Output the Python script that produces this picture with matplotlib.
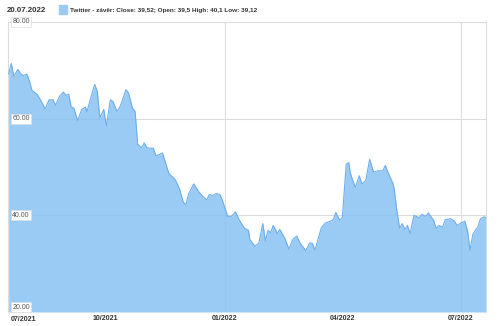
import pandas as pd
import matplotlib
matplotlib.use("Agg")
import matplotlib.pyplot as plt

# Twitter closing prices
dates = [
    "2021-07-19", "2021-07-21", "2021-07-23", "2021-07-26", "2021-07-28", "2021-07-30",
    "2021-08-02", "2021-08-04", "2021-08-06", "2021-08-10", "2021-08-13", "2021-08-16",
    "2021-08-19", "2021-08-22", "2021-08-24", "2021-08-27", "2021-08-30", "2021-09-01",
    "2021-09-03", "2021-09-05", "2021-09-07", "2021-09-10", "2021-09-13", "2021-09-16",
    "2021-09-17", "2021-09-20", "2021-09-23", "2021-09-25", "2021-09-27", "2021-09-30",
    "2021-10-02", "2021-10-05", "2021-10-07", "2021-10-10", "2021-10-12", "2021-10-14",
    "2021-10-17", "2021-10-19", "2021-10-22", "2021-10-24", "2021-10-26", "2021-10-29",
    "2021-10-31", "2021-11-02", "2021-11-04", "2021-11-07", "2021-11-09", "2021-11-14",
    "2021-11-17", "2021-11-19", "2021-11-22", "2021-11-24", "2021-11-27", "2021-11-30",
    "2021-12-02", "2021-12-04", "2021-12-08", "2021-12-12", "2021-12-15", "2021-12-18",
    "2021-12-20", "2021-12-23", "2021-12-25", "2021-12-28", "2021-12-30", "2022-01-03",
    "2022-01-06", "2022-01-09", "2022-01-12", "2022-01-16", "2022-01-19", "2022-01-20",
    "2022-01-24", "2022-01-27", "2022-01-30", "2022-02-01", "2022-02-03", "2022-02-05",
    "2022-02-07", "2022-02-09", "2022-02-10", "2022-02-12", "2022-02-16", "2022-02-19",
    "2022-02-22", "2022-02-25", "2022-02-28", "2022-03-04", "2022-03-07", "2022-03-09",
    "2022-03-11", "2022-03-16", "2022-03-19", "2022-03-23", "2022-03-25", "2022-03-27",
    "2022-03-30", "2022-04-01", "2022-04-04", "2022-04-06", "2022-04-07", "2022-04-09",
    "2022-04-11", "2022-04-14", "2022-04-16", "2022-04-19", "2022-04-22", "2022-04-25",
    "2022-04-28", "2022-05-02", "2022-05-04", "2022-05-06", "2022-05-10", "2022-05-11",
    "2022-05-13", "2022-05-15", "2022-05-17", "2022-05-19", "2022-05-21", "2022-05-23",
    "2022-05-26", "2022-05-30", "2022-06-01", "2022-06-04", "2022-06-06", "2022-06-10",
    "2022-06-12", "2022-06-14", "2022-06-17", "2022-06-19", "2022-06-23", "2022-06-26",
    "2022-06-28", "2022-07-01", "2022-07-04", "2022-07-06", "2022-07-08", "2022-07-10",
    "2022-07-12", "2022-07-14", "2022-07-16", "2022-07-19", "2022-07-20",
]
close = [
    69.3, 71.4, 68.7, 70.2, 69.4, 68.9,
    69.2, 67.7, 65.8, 65.0, 63.6, 62.0,
    63.9, 63.9, 62.8, 64.6, 65.5, 64.8,
    65.1, 62.4, 62.2, 59.6, 61.9, 62.4,
    61.4, 64.3, 67.1, 65.6, 60.2, 61.9,
    58.5, 63.9, 63.6, 61.5, 62.2, 63.6,
    66.0, 65.3, 62.2, 61.5, 54.7, 54.0,
    55.0, 54.0, 53.9, 53.9, 52.3, 52.9,
    50.3, 48.6, 47.9, 47.3, 45.5, 42.7,
    42.2, 44.4, 46.5, 44.8, 43.9, 43.2,
    44.3, 44.1, 44.5, 44.3, 43.1, 39.8,
    39.8, 40.7, 39.0, 37.3, 36.9, 35.0,
    33.6, 34.3, 38.3, 34.7, 36.9, 36.4,
    37.9, 36.9, 36.2, 37.1, 35.2, 33.0,
    35.0, 35.7, 34.1, 32.7, 34.3, 34.2,
    32.8, 37.5, 38.4, 38.8, 39.1, 40.6,
    39.0, 39.5, 50.6, 50.9, 48.9, 47.2,
    45.8, 48.2, 46.5, 47.2, 51.6, 48.9,
    49.2, 49.2, 50.3, 48.9, 46.5, 45.1,
    40.7, 37.3, 38.3, 37.1, 37.9, 36.2,
    40.0, 39.5, 40.2, 39.8, 40.5, 39.0,
    37.3, 37.9, 37.6, 39.1, 39.3, 38.8,
    37.9, 38.4, 38.8, 36.9, 32.8, 35.9,
    36.9, 37.6, 39.3, 39.7, 39.52,
]

tick_dates = ["2021-10-01", "2022-01-01", "2022-04-01", "2022-07-01"]
tick_labels = ["10/2021", "01/2022", "04/2022", "07/2022"]
grid_dates = ["2022-01-01", "2022-07-01"]
y_ticks = [20, 40, 60, 80]

x = pd.to_datetime(dates)

fill_col = "#89c2f3"
line_col = "#6eaeea"
grid_col = "#dcdcdc"
text_col = "#333333"
plt.rcParams["font.family"] = ["Liberation Sans", "DejaVu Sans"]

fig = plt.figure(figsize=(5, 3.26), dpi=100)
ax = fig.add_axes([0.016, 0.043, 0.956, 0.8896])

# grid sits under a slightly see-through area
for v in y_ticks[1:]:
    ax.axhline(v, color=grid_col, lw=0.8, zorder=1)
for d in grid_dates:
    ax.axvline(pd.Timestamp(d), color=grid_col, lw=0.8, zorder=1)

ax.fill_between(x, close, 20, color=fill_col, alpha=0.85, lw=0, zorder=2)
ax.plot(x, close, color=line_col, lw=0.8, zorder=3)

ax.set_ylim(20, 80)
ax.set_xlim(pd.Timestamp("2021-07-18 12:00"), pd.Timestamp("2022-07-20 06:00"))

for s in ["top", "bottom"]:
    ax.spines[s].set_visible(False)
for s in ["left", "right"]:
    ax.spines[s].set_color(grid_col)
    ax.spines[s].set_linewidth(0.8)

ax.set_yticks([])
ax.set_xticks(pd.to_datetime(tick_dates))
ax.set_xticklabels(tick_labels, fontsize=5, fontweight="bold", color=text_col)
ax.tick_params(axis="x", length=0, pad=2.2)
ax.text(0.006, -0.013, "07/2021", transform=ax.transAxes, fontsize=5,
        fontweight="bold", color=text_col, ha="left", va="top")

# y labels inside the plot, in small white boxes
for v in y_ticks:
    ax.text(0.009, v + (0.3 if v == 20 else 0), f"{v:.2f}",
            transform=ax.get_yaxis_transform(), fontsize=5, color="#555555",
            ha="left", va="bottom" if v == 20 else "center", zorder=5,
            bbox=dict(boxstyle="square,pad=0.2", fc="white", ec="#dddddd", lw=0.5))

# header
fig.text(0.014, 0.978, "20.07.2022", fontsize=5.7, fontweight="bold",
         color=text_col, ha="left", va="top")
fig.patches.append(plt.Rectangle((0.118, 0.958), 0.016, 0.026, transform=fig.transFigure,
                                 color="#9bcbf5", figure=fig))
fig.text(0.14, 0.976, "Twitter - závěr: Close: 39,52; Open: 39,5 High: 40,1 Low: 39,12",
         fontsize=4.6, fontweight="bold", color=text_col, ha="left", va="top")

fig.savefig("out.png", dpi=100)
